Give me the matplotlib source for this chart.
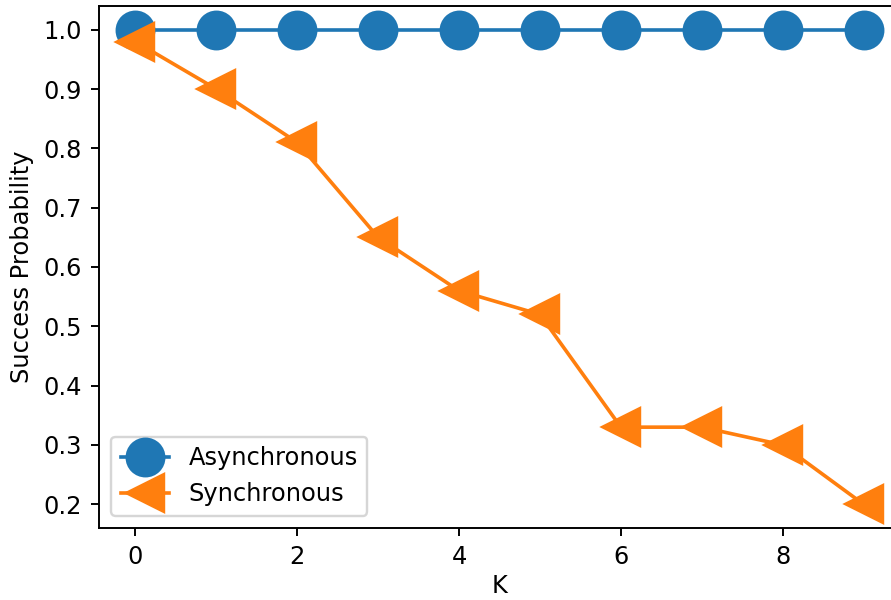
import matplotlib
matplotlib.use("Agg")
import matplotlib.pyplot as plt

K = list(range(10))
asynchronous = [1.0] * 10
synchronous = [0.98, 0.90, 0.81, 0.65, 0.56, 0.52, 0.33, 0.33, 0.30, 0.20]

dpi = 174
fig = plt.figure(figsize=(891 / dpi, 600 / dpi), dpi=dpi)
W, H = 891, 600
left, right, bottom, top = 99, 900, 528, 6
ax = fig.add_axes([left / W, 1 - bottom / H, (right - left) / W, (bottom - top) / H])

ax.plot(K, asynchronous, marker='o', markersize=15.5, linewidth=1.5, color='#1f77b4', label='Asynchronous')
ax.plot(K, synchronous, marker='<', markersize=15.5, linewidth=1.5, color='#ff7f0e', label='Synchronous')
ax.set_xlim(-0.45, 9.45)
ax.set_ylim(0.16, 1.04)
ax.set_xticks([0, 2, 4, 6, 8])
ax.set_xlabel('K', labelpad=2)
ax.set_ylabel('Success Probability')
ax.legend(loc='lower left')

fig.savefig('out.png', dpi=dpi)
